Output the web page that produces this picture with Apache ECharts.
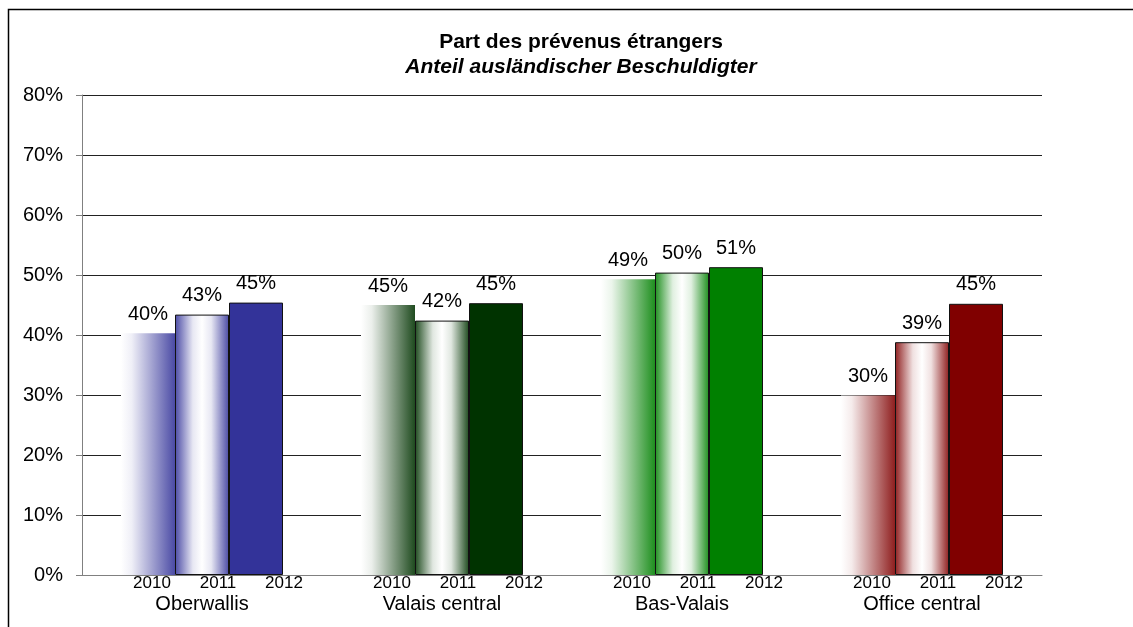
<!DOCTYPE html>
<html>
<head>
<meta charset="utf-8">
<script src="https://cdn.jsdelivr.net/npm/echarts@6/dist/echarts.min.js"></script>
<style>
  html, body { margin: 0; padding: 0; background: #fff; }
  #chart { width: 1133px; height: 627px; }
</style>
</head>
<body>
<div id="chart"></div>
<script>
// données
const categories = ['Oberwallis', 'Valais central', 'Bas-Valais', 'Office central']
const years = ['2010', '2011', '2012']
const share2010 = [0.403, 0.450, 0.493, 0.299]
const share2011 = [0.434, 0.424, 0.504, 0.388]
const share2012 = [0.454, 0.453, 0.513, 0.452]
const groupColors = ['#333399', '#003300', '#008000', '#800000']

// mélange d'une couleur avec du blanc (t = 0 -> blanc, t = 1 -> couleur)
function mix (hex, t) {
  const n = parseInt(hex.slice(1), 16)
  const r = Math.round(255 + (((n >> 16) & 255) - 255) * t)
  const g = Math.round(255 + (((n >> 8) & 255) - 255) * t)
  const b = Math.round(255 + ((n & 255) - 255) * t)
  return 'rgb(' + r + ',' + g + ',' + b + ')'
}

function fadeRight (hex) {
  return {
    type: 'linear', x: 0, y: 0, x2: 1, y2: 0,
    colorStops: [
      { offset: 0, color: '#fff' },
      { offset: 0.2, color: mix(hex, 0.08) },
      { offset: 1, color: mix(hex, 0.88) }
    ]
  }
}

function cylinder (hex) {
  return {
    type: 'linear', x: 0, y: 0, x2: 1, y2: 0,
    colorStops: [
      { offset: 0, color: mix(hex, 0.88) },
      { offset: 0.33, color: mix(hex, 0.12) },
      { offset: 0.5, color: '#fff' },
      { offset: 0.67, color: mix(hex, 0.12) },
      { offset: 1, color: mix(hex, 0.88) }
    ]
  }
}

const pct = p => Math.round(p.value * 100) + '%'
const font = 'Liberation Sans, Arial, sans-serif'

function makeSeries (name, values, styleFn, border) {
  return {
    name: name,
    type: 'bar',
    barWidth: 54,
    barGap: '0%',
    data: values.map((v, i) => ({
      value: v,
      itemStyle: {
        color: styleFn(groupColors[i]),
        borderColor: border ? '#111' : 'transparent',
        borderWidth: border ? 1 : 0
      }
    })),
    label: {
      show: true,
      position: 'top',
      distance: 9,
      formatter: pct,
      fontSize: 20,
      fontFamily: font,
      color: '#000'
    }
  }
}

const chart = echarts.init(document.getElementById('chart'))
chart.setOption({
  animation: false,
  backgroundColor: '#fff',
  textStyle: { fontFamily: font },
  title: {
    text: 'Part des prévenus étrangers',
    subtext: 'Anteil ausländischer Beschuldigter',
    left: 576,
    top: 27,
    textAlign: 'center',
    itemGap: 4,
    textStyle: { fontSize: 21, fontWeight: 'bold', color: '#000', fontFamily: font },
    subtextStyle: { fontSize: 21, fontWeight: 'bold', fontStyle: 'italic', color: '#000', fontFamily: font }
  },
  graphic: [{
    type: 'rect',
    shape: { x: 8.5, y: 9.5, width: 1200, height: 700 },
    style: { fill: 'none', stroke: '#000', lineWidth: 1.5 },
    silent: true
  }],
  grid: { left: 82, right: 91, top: 95, bottom: 52 },
  xAxis: [
    {
      type: 'category',
      data: categories,
      axisLine: { lineStyle: { color: '#808080', width: 1 } },
      axisTick: { length: 6, lineStyle: { color: '#808080' } },
      axisLabel: {
        interval: 0,
        margin: 0,
        formatter: () => '{p| }' + years.map(y => '{y|' + y + '}').join(''),
        rich: {
          p: { width: 32, align: 'center' },
          y: { width: 66, align: 'center', fontSize: 17, color: '#000', fontFamily: font }
        }
      }
    },
    {
      type: 'category',
      data: categories,
      position: 'bottom',
      axisLine: { show: false },
      axisTick: { show: false },
      axisLabel: { interval: 0, margin: 19, fontSize: 20, color: '#000', fontFamily: font }
    }
  ],
  yAxis: {
    type: 'value',
    min: 0,
    max: 0.8,
    interval: 0.1,
    axisLine: { show: true, lineStyle: { color: '#808080' } },
    axisTick: { show: true, length: 6, lineStyle: { color: '#808080' } },
    axisLabel: {
      margin: 19,
      fontSize: 20,
      color: '#000',
      fontFamily: font,
      formatter: v => Math.round(v * 100) + '%'
    },
    splitLine: { lineStyle: { color: '#222', width: 1 } }
  },
  series: [
    makeSeries(years[0], share2010, fadeRight, false),
    makeSeries(years[1], share2011, cylinder, true),
    makeSeries(years[2], share2012, c => c, true)
  ]
})
</script>
</body>
</html>
